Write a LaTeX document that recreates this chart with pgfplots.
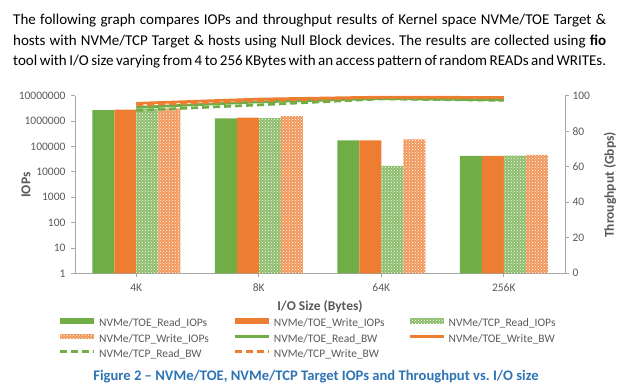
\documentclass[border=0pt]{standalone}
\usepackage{fontspec}
\setmainfont{Carlito}
\usepackage{pgfplots}
\pgfplotsset{compat=1.18}
\usetikzlibrary{patterns}
\definecolor{cgreen}{HTML}{70AD47}
\definecolor{corange}{HTML}{ED7D31}
\definecolor{tickgray}{HTML}{595959}
\definecolor{axgray}{HTML}{A6A6A6}
\definecolor{capblue}{HTML}{2E74B5}
\pgfplotsset{
  lineleg/.style={legend image code/.code={\draw[##1] (0pt,3pt) -- (34pt,3pt);}},
  common/.style={
    scale only axis, width=490pt, height=177.6pt,
    at={(75pt,114.7pt)}, anchor=south west,
    xmin=-0.5, xmax=3.5,
    axis line style={axgray, line width=0.8pt, -},
    tick style={axgray, line width=0.8pt},
    tick align=outside, major tick length=4pt,
    ticklabel style={font=\fontsize{11.5}{12}\selectfont, text=tickgray},
    /pgf/number format/assume math mode=true,
  }
}
\frenchspacing
\begin{document}
\begin{tikzpicture}
\useasboundingbox (0,0) rectangle (620pt,388pt);
\begin{scope}[every node/.style={anchor=base west, inner sep=0pt, font=\fontsize{15}{17}\selectfont}]
\node at (13pt,363pt) {\makebox[593pt][s]{The following graph compares IOPs and throughput results of Kernel space NVMe/TOE Target \&}};
\node at (13pt,342.5pt) {\makebox[593pt][s]{hosts with NVMe/TCP Target \& hosts using Null Block devices. The results are collected using \textbf{fio}}};
\node at (13pt,322pt) {\makebox[593pt][s]{tool with I/O size varying from 4 to 256 KBytes with an access pattern of random READs and WRITEs.}};
\end{scope}

\begin{axis}[common,
  ymode=log, ymin=1, ymax=1e7, yminorticks=false,
  ybar=0pt, bar width=22pt,
  xtick={0,1,2,3}, xticklabels={4K,8K,64K,256K},
  xticklabel style={yshift=-3pt},
  ytick={1,10,100,1000,10000,100000,1000000,10000000},
  yticklabels={1,10,100,1000,10000,100000,1000000,10000000},
  yticklabel style={xshift=-2pt},
  axis x line*=bottom, axis y line*=left,
  ylabel={IOPs},
  ylabel style={font=\bfseries\fontsize{13.5}{14}\selectfont, text=tickgray, at={(axis description cs:-0.1,0.497)}, anchor=center},
  xlabel={I/O Size (Bytes)},
  xlabel style={font=\bfseries\fontsize{13.5}{14}\selectfont, text=tickgray, at={(axis description cs:0.5,-0.19)}, anchor=center},
]
\addplot[fill=cgreen, draw=none] coordinates {(0,2.7e6) (1,1.27e6) (2,1.72e5) (3,4.25e4)};
\addplot[fill=corange, draw=none] coordinates {(0,2.85e6) (1,1.38e6) (2,1.72e5) (3,4.25e4)};
\addplot[fill=cgreen!80!white, draw=none, postaction={pattern=crosshatch dots, pattern color=white}] coordinates {(0,3.1e6) (1,1.3e6) (2,1.7e4) (3,4.3e4)};
\addplot[fill=corange!80!white, draw=none, postaction={pattern=crosshatch dots, pattern color=white}] coordinates {(0,3.2e6) (1,1.55e6) (2,1.88e5) (3,4.6e4)};
\end{axis}

\begin{axis}[common,
  ymin=0, ymax=100,
  axis y line*=right, axis x line=none,
  ytick={0,20,40,60,80,100},
  ylabel={Throughput (Gbps)},
  ylabel style={font=\bfseries\fontsize{13.5}{14}\selectfont, text=tickgray, at={(axis description cs:1.092,0.497)}, anchor=center, rotate=0},
  legend columns=3,
  legend style={draw=none, fill=none, inner sep=0pt, outer sep=0pt,
    at={(axis description cs:-0.0327,-0.252)}, anchor=north west,
    row sep=4.5pt,
    nodes={inner sep=0pt, text height=8pt, text depth=2.5pt, font=\fontsize{11.5}{12}\selectfont, text=tickgray},
    /tikz/every odd column/.append style={column sep=3.5pt},
    /tikz/every even column/.append style={column sep=12.5pt}},
  legend cell align=left,
]
\addlegendimage{legend image code/.code={\path[draw=none, fill=cgreen] (0pt,0.5pt) rectangle (34pt,6pt);}}
\addlegendentry{\makebox[122pt][l]{NVMe/TOE\_Read\_IOPs}}
\addlegendimage{legend image code/.code={\path[draw=none, fill=corange] (0pt,0.5pt) rectangle (34pt,6pt);}}
\addlegendentry{\makebox[122pt][l]{NVMe/TOE\_Write\_IOPs}}
\addlegendimage{legend image code/.code={\path[draw=none, fill=cgreen!80!white, postaction={draw=none, pattern=crosshatch dots, pattern color=white}] (0pt,0.5pt) rectangle (34pt,6pt);}}
\addlegendentry{\makebox[122pt][l]{NVMe/TCP\_Read\_IOPs}}
\addlegendimage{legend image code/.code={\path[draw=none, fill=corange!80!white, postaction={draw=none, pattern=crosshatch dots, pattern color=white}] (0pt,0.5pt) rectangle (34pt,6pt);}}
\addlegendentry{\makebox[122pt][l]{NVMe/TCP\_Write\_IOPs}}
\addplot[cgreen, line width=2.7pt, lineleg] coordinates {(0,93.4) (1,96.5) (2,98.4) (3,97.6)};
\addlegendentry{\makebox[122pt][l]{NVMe/TOE\_Read\_BW}}
\addplot[corange, line width=2.7pt, lineleg] coordinates {(0,95.7) (1,98.1) (2,99.2) (3,99.0)};
\addlegendentry{\makebox[122pt][l]{NVMe/TOE\_Write\_BW}}
\addplot[cgreen, line width=2.7pt, dash pattern=on 7pt off 4pt, lineleg] coordinates {(0,91.7) (1,94.8) (2,98.2) (3,97.4)};
\addlegendentry{\makebox[122pt][l]{NVMe/TCP\_Read\_BW}}
\addplot[corange, line width=2.7pt, dash pattern=on 7pt off 4pt, lineleg] coordinates {(0,94.8) (1,97.2) (2,99.0) (3,98.8)};
\addlegendentry{\makebox[122pt][l]{NVMe/TCP\_Write\_BW}}
\end{axis}

\node[font=\bfseries\fontsize{14.6}{15}\selectfont, text=capblue, inner sep=0pt] at (316pt,11pt) {Figure 2 -- NVMe/TOE, NVMe/TCP Target IOPs and Throughput vs. I/O size};
\end{tikzpicture}
\end{document}
